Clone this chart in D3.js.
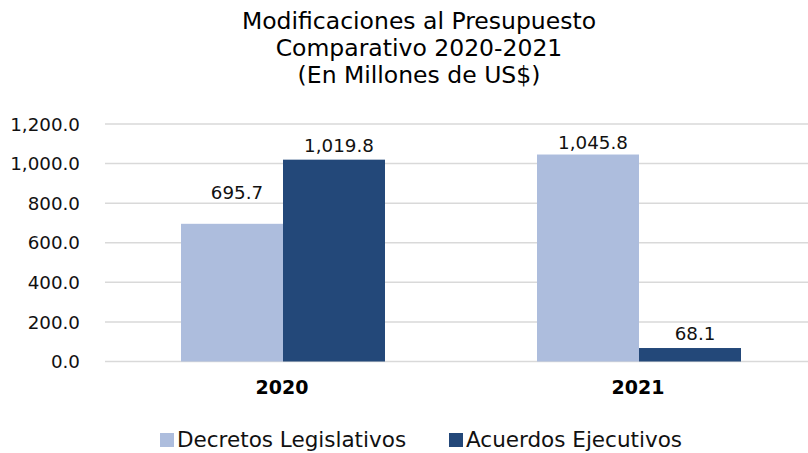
<!DOCTYPE html>
<html><head><meta charset="utf-8">
<script src="https://cdn.jsdelivr.net/npm/d3@7"></script>
<style>html,body{margin:0;padding:0;background:#fff;overflow:hidden}</style>
</head><body><svg id="c" width="808" height="453"></svg>
<script>
const titleLines = ["Modificaciones al Presupuesto", "Comparativo 2020-2021", "(En Millones de US$)"];
const categories = ["2020", "2021"];
const seriesNames = ["Decretos Legislativos", "Acuerdos Ejecutivos"];
const decretos = [695.7, 1045.8];
const acuerdos = [1019.8, 68.1];
const yTicks = [0, 200, 400, 600, 800, 1000, 1200];
const colors = ["#ADBDDD", "#234879"];

const font = "'DejaVu Sans', Verdana, sans-serif";
const svg = d3.select("#c");
const data = categories.map((c, i) => ({cat: c, vals: [decretos[i], acuerdos[i]]}));

const y = d3.scaleLinear().domain([0, 1200]).range([361.5, 124]);
const x0 = d3.scaleBand().domain(categories).range([105, 817]).paddingInner(0.427).paddingOuter(0.2135);
const x1 = d3.scaleBand().domain([0, 1]).range([0, x0.bandwidth()]);

svg.append("g").selectAll("line").data(yTicks).join("line")
  .attr("x1", 105).attr("x2", 808)
  .attr("y1", d => y(d)).attr("y2", d => y(d))
  .attr("stroke", "#D9D9D9").attr("stroke-width", 1.5);

const fmt = d3.format(",.1f");
svg.append("g").selectAll("text").data(yTicks).join("text")
  .attr("x", 80).attr("y", d => y(d)).attr("dy", "0.36em")
  .attr("text-anchor", "end").attr("font-family", font).attr("font-size", 18.3).attr("fill", "#111")
  .text(d => fmt(d));

// label lift above bar top (the 2020 Decretos label sits higher in the original)
const lift = (ci, si) => (ci === 0 && si === 0) ? 25 : (ci === 1 && si === 0 ? 6 : 8);

const g = svg.append("g").selectAll("g").data(data).join("g")
  .attr("transform", d => `translate(${x0(d.cat)},0)`);
g.selectAll("rect").data(d => d.vals.map((v, i) => ({v, i}))).join("rect")
  .attr("x", d => x1(d.i)).attr("width", x1.bandwidth())
  .attr("y", d => y(d.v)).attr("height", d => y(0) - y(d.v))
  .attr("fill", d => colors[d.i]);
g.selectAll("text").data((d, ci) => d.vals.map((v, i) => ({v, i, ci}))).join("text")
  .attr("x", d => x1(d.i) + x1.bandwidth() / 2 + 5).attr("y", d => y(d.v) - lift(d.ci, d.i))
  .attr("text-anchor", "middle").attr("font-family", font).attr("font-size", 18.3).attr("fill", "#111")
  .text(d => fmt(d.v));

svg.append("g").selectAll("text").data(categories).join("text")
  .attr("x", d => x0(d) + x0.bandwidth() / 2 - 1).attr("y", 394)
  .attr("text-anchor", "middle").attr("font-family", font).attr("font-size", 19).attr("font-weight", "bold").attr("fill", "#000")
  .text(d => d);

svg.append("g").selectAll("text").data(titleLines).join("text")
  .attr("x", 419).attr("y", (d, i) => 29 + i * 27)
  .attr("text-anchor", "middle").attr("font-family", font).attr("font-size", 23.5).attr("fill", "#000")
  .text(d => d);

const legX = [160, 449];
const leg = svg.append("g").selectAll("g").data(seriesNames).join("g")
  .attr("transform", (d, i) => `translate(${legX[i]},0)`);
leg.append("rect").attr("x", 0).attr("y", 433).attr("width", 14).attr("height", 14).attr("fill", (d, i) => colors[i]);
leg.append("text").attr("x", 17).attr("y", 447).attr("font-family", font).attr("font-size", 21.5).attr("fill", "#111").text(d => d);
</script></body></html>
